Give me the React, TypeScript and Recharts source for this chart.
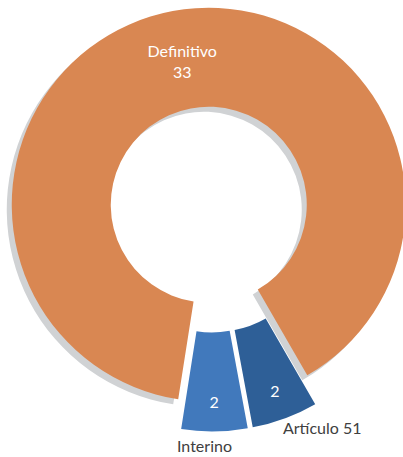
import { PieChart, Pie, Cell } from 'recharts'

// slices, clockwise from the cut at about 5 o'clock
const categories = ['Artículo 51', 'Interino', 'Definitivo']
const values = [2, 2, 33]
const colors = ['#2E5F97', '#4179BC', '#D98752']
const shadowColor = '#D0D2D4'

const data = categories.map((name, i) => ({ name, value: values[i] }))

const W = 403
const H = 457
const CX = 211.5
const CY = 219.5
const INNER = 98
const OUTER = 197
const START = -60
const END = -420
const EXPLODE = 15
const FONT = 'Lato, "Open Sans", sans-serif'

const total = values.reduce((a, b) => a + b, 0)

const midAngleOf = (i: number) => {
  const before = values.slice(0, i).reduce((a, b) => a + b, 0)
  return START + ((END - START) * (before + values[i] / 2)) / total
}

const centerOf = (i: number) => {
  const a = (-midAngleOf(i) * Math.PI) / 180
  return { cx: CX + EXPLODE * Math.cos(a), cy: CY + EXPLODE * Math.sin(a) }
}

const polar = (cx: number, cy: number, r: number, angle: number) => {
  const a = (-angle * Math.PI) / 180
  return { x: cx + r * Math.cos(a), y: cy + r * Math.sin(a) }
}

// where the category name sits, relative to the outer edge of the slice
const outsideNudge: Record<string, { dx: number; dy: number; anchor: 'start' | 'middle' }> = {
  'Artículo 51': { dx: -2, dy: 16, anchor: 'start' },
  Interino: { dx: -10, dy: 21, anchor: 'middle' },
}

const makeLabel = (shown: number) => (props: any) => {
  const { cx, cy, midAngle, index, value, name } = props
  if (index !== shown) return null
  if (name === 'Definitivo') {
    const p = polar(cx, cy, 145, midAngle)
    return (
      <g>
        <text x={p.x} y={p.y - 5} fill="#fff" fontSize={16} fontFamily={FONT} textAnchor="middle">
          {name}
        </text>
        <text x={p.x} y={p.y + 16} fill="#fff" fontSize={16} fontFamily={FONT} textAnchor="middle">
          {value}
        </text>
      </g>
    )
  }
  const inner = polar(cx, cy, 168, midAngle)
  const edge = polar(cx, cy, OUTER, midAngle)
  const n = outsideNudge[name]
  return (
    <g>
      <text x={inner.x} y={inner.y + 6} fill="#fff" fontSize={16} fontFamily={FONT} textAnchor="middle">
        {value}
      </text>
      <text x={edge.x + n.dx} y={edge.y + n.dy} fill="#404040" fontSize={16} fontFamily={FONT} textAnchor={n.anchor}>
        {name}
      </text>
    </g>
  )
}

const mainIndex = categories.indexOf('Definitivo')

export default function App() {
  const mainCenter = centerOf(mainIndex)
  return (
    <div style={{ position: 'absolute', left: 0, top: 0, width: W, height: H, background: '#fff' }}>
      <PieChart width={W} height={H} margin={{ top: 0, right: 0, bottom: 0, left: 0 }}>
        {/* drop shadow of the big slice */}
        <Pie
          data={data}
          dataKey="value"
          nameKey="name"
          cx={mainCenter.cx - 5}
          cy={mainCenter.cy + 5}
          innerRadius={INNER}
          outerRadius={OUTER}
          startAngle={START}
          endAngle={END}
          stroke="none"
          isAnimationActive={false}
        >
          {data.map((d, i) => (
            <Cell key={d.name} fill={i === mainIndex ? shadowColor : 'transparent'} />
          ))}
        </Pie>
        {data.map((d, i) => {
          const c = centerOf(i)
          return (
            <Pie
              key={d.name}
              data={data}
              dataKey="value"
              nameKey="name"
              cx={c.cx}
              cy={c.cy}
              innerRadius={INNER}
              outerRadius={OUTER}
              startAngle={START}
              endAngle={END}
              stroke="none"
              labelLine={false}
              label={makeLabel(i)}
              isAnimationActive={false}
            >
              {data.map((e, j) => (
                <Cell key={e.name} fill={j === i ? colors[j] : 'transparent'} />
              ))}
            </Pie>
          )
        })}
      </PieChart>
    </div>
  )
}
